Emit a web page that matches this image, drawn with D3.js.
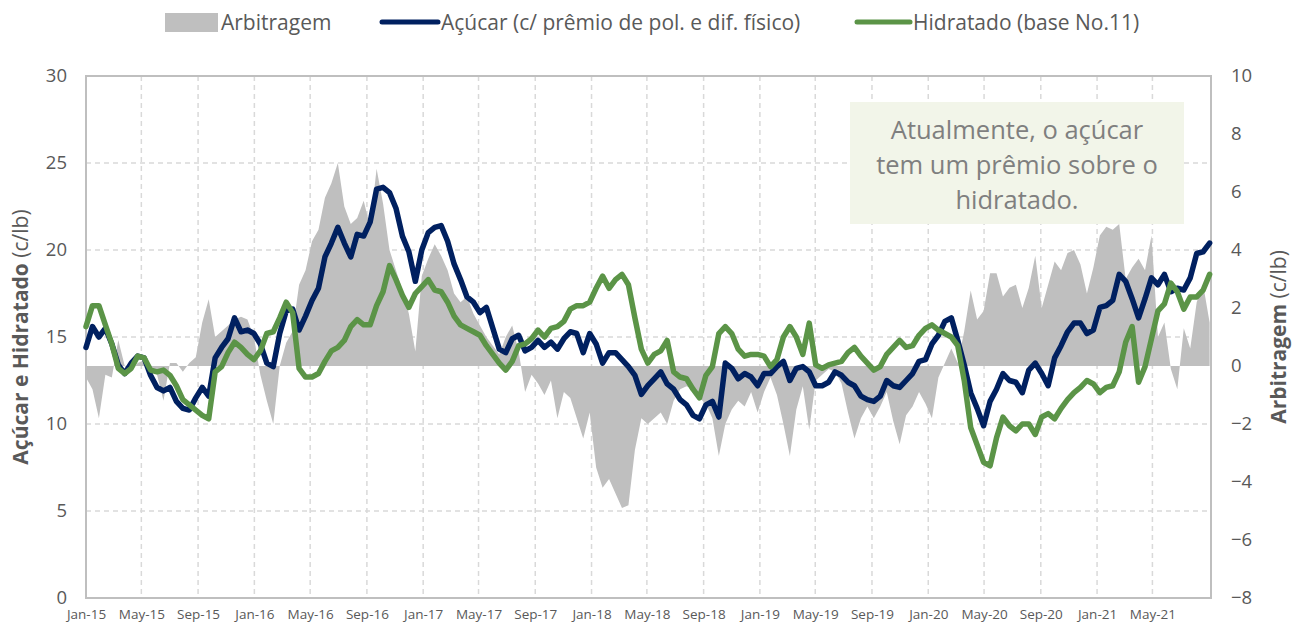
<!DOCTYPE html>
<html>
<head>
<meta charset="utf-8">
<script src="https://cdn.jsdelivr.net/npm/d3@7"></script>
<style>
  body { margin: 0; background: #fff; }
  text { font-family: "Open Sans", "Noto Sans", sans-serif; }
</style>
</head>
<body>
<script>
// serie quinzenal a partir de jan/2015 (c/lb)
var START_DATE = "2015-01-01";
var STEP_DAYS = 14;

var acucar = [
  14.4,15.6,15.0,15.5,14.6,13.4,12.9,13.5,13.9,13.8,
  12.8,12.1,11.9,12.1,11.3,10.9,10.8,11.5,12.1,11.6,
  13.8,14.4,14.9,16.1,15.3,15.4,15.2,14.6,13.5,13.3,
  15.2,16.5,16.6,15.4,16.2,17.1,17.8,19.6,20.4,21.3,
  20.4,19.6,20.9,20.8,21.6,23.5,23.6,23.3,22.4,20.8,
  19.9,18.2,20.0,21.0,21.3,21.4,20.5,19.2,18.3,17.3,
  17.0,16.4,16.7,15.5,14.3,14.1,14.9,15.1,14.2,14.4,
  14.8,14.4,14.7,14.3,14.9,15.3,15.2,14.1,15.2,14.6,
  13.5,14.1,14.1,13.7,13.3,12.8,11.7,12.2,12.6,13.0,
  12.3,12.0,11.4,11.1,10.5,10.3,11.1,11.3,10.4,13.5,
  13.2,12.6,12.9,12.7,12.2,12.9,12.9,13.3,13.6,12.5,
  13.2,13.3,13.0,12.2,12.2,12.4,13.0,12.8,12.4,12.2,
  11.6,11.4,11.3,11.6,12.5,12.2,12.1,12.5,12.9,13.6,
  13.7,14.6,15.1,15.9,16.1,14.8,13.4,11.8,10.9,9.9,
  11.3,12.0,12.9,12.5,12.4,11.8,13.1,13.5,12.9,12.2,
  13.8,14.5,15.3,15.8,15.8,15.2,15.4,16.7,16.8,17.1,
  18.6,18.2,17.2,16.1,17.2,18.4,18.0,18.6,17.6,17.8,
  17.7,18.4,19.8,19.9,20.4
];

var hidratado = [
  15.6,16.8,16.8,15.7,14.6,13.2,12.9,13.2,13.9,13.8,
  13.1,13.0,13.1,12.8,12.2,11.4,11.1,10.8,10.5,10.3,
  13.0,13.3,14.1,14.7,14.4,14.0,13.7,14.2,15.2,15.3,
  16.1,17.0,16.4,13.2,12.7,12.7,12.9,13.6,14.2,14.4,
  14.8,15.6,16.0,15.7,15.7,16.8,17.6,19.1,18.3,17.4,
  16.7,17.5,17.9,18.3,17.7,17.6,17.0,16.2,15.7,15.5,
  15.3,15.1,14.5,14.0,13.5,13.1,13.6,14.5,14.6,14.9,
  15.4,15.0,15.5,15.6,15.9,16.6,16.8,16.8,17.0,17.8,
  18.5,17.8,18.3,18.6,18.0,16.1,14.3,13.5,14.0,14.2,
  14.8,13.0,12.7,12.6,12.0,11.5,12.8,13.3,15.2,15.6,
  15.2,14.3,13.9,14.0,14.0,13.9,13.3,13.7,15.0,15.6,
  15.0,14.0,15.8,13.4,13.2,13.4,13.5,13.6,14.1,14.4,
  13.9,13.5,13.1,13.3,14.0,14.4,14.8,14.4,14.5,15.1,
  15.5,15.7,15.4,15.2,15.0,14.5,12.5,9.8,8.8,7.8,
  7.6,9.2,10.4,9.9,9.6,10.0,10.0,9.4,10.4,10.6,
  10.3,10.9,11.4,11.8,12.1,12.5,12.3,11.8,12.1,12.2,
  13.0,14.7,15.6,12.4,13.3,14.9,16.5,16.9,18.1,17.6,
  16.6,17.3,17.3,17.7,18.6
];

var arbitragem = [
  -0.4,-0.8,-1.8,-0.3,-0.4,0.9,0.0,-0.2,0.1,0.2,
  -0.1,-0.3,-1.2,0.1,0.1,-0.2,0.1,0.3,1.5,2.3,
  1.0,1.2,1.4,1.6,1.7,1.6,1.0,-0.3,-1.2,-2.0,
  0.0,0.8,1.2,2.8,3.3,4.3,4.7,5.8,6.3,7.0,
  5.5,4.9,5.1,5.7,4.8,6.8,5.6,4.0,3.3,2.6,
  1.8,0.5,3.1,3.7,4.2,3.8,3.3,2.5,2.2,2.4,
  1.8,1.4,1.0,0.7,0.4,1.0,1.4,0.5,-0.9,-0.3,
  -0.6,-1.0,-0.5,-1.8,-0.9,-1.1,-1.8,-2.5,-1.6,-3.5,
  -4.2,-3.9,-4.4,-4.9,-4.8,-2.9,-1.8,-2.0,-1.8,-1.6,
  -2.0,-1.2,-0.8,-0.7,-0.8,-1.1,-1.3,-1.8,-3.1,-2.0,
  -1.5,-1.2,-1.4,-0.9,-1.6,-0.9,-0.4,-1.0,-2.0,-3.1,
  -1.5,-0.7,-2.2,-0.5,-0.3,-0.1,-0.2,-0.6,-1.6,-2.5,
  -1.8,-1.4,-1.8,-1.4,-0.9,-1.9,-2.7,-1.7,-1.4,-0.9,
  -1.3,-1.8,-0.4,0.1,0.6,0.1,1.2,2.6,1.6,1.9,
  3.2,3.2,2.4,2.7,2.8,2.0,2.7,3.8,2.0,2.8,
  3.6,3.3,3.9,4.0,3.5,2.5,3.4,4.5,4.8,4.7,
  4.9,3.0,3.4,3.7,3.3,4.5,1.0,1.5,-0.1,-0.8,
  1.3,0.6,2.2,2.8,1.5
];

var leftTicks = [0, 5, 10, 15, 20, 25, 30];
var rightTicks = [-8, -6, -4, -2, 0, 2, 4, 6, 8, 10];
var xDomain = ["2015-01-01", "2021-09-05"];
var legendLabels = ["Arbitragem", "Açúcar (c/ prêmio de pol. e dif. físico)", "Hidratado (base No.11)"];
var noteLines = ["Atualmente, o açúcar", "tem um prêmio sobre o", "hidratado."];

var W = 1295, H = 627;
var m = { left: 86, right: 84, top: 76, bottom: 29 };
var GRAY_TXT = "#595959";
var COR_ACUCAR = "#002060", COR_HIDR = "#5B9447", COR_ARB = "#BFBFBF";

var parse = d3.timeParse("%Y-%m-%d");
var start = parse(START_DATE);
var rows = acucar.map(function (v, i) {
  return { date: d3.timeDay.offset(start, i * STEP_DAYS), acucar: v, hidratado: hidratado[i], arb: arbitragem[i] };
});

var svg = d3.select("body").append("svg").attr("width", W).attr("height", H);

var x = d3.scaleTime().domain(xDomain.map(parse)).range([m.left, W - m.right]);
var yL = d3.scaleLinear().domain([0, 30]).range([H - m.bottom, m.top]);
var yR = d3.scaleLinear().domain([-8, 10]).range([H - m.bottom, m.top]);

var xTicks = d3.timeMonth.range(parse("2015-01-01"), parse("2021-09-01"), 4);

// grade
var grid = svg.append("g").attr("stroke", "#D9D9D9").attr("stroke-width", 1.5).attr("stroke-dasharray", "5,4");
grid.selectAll("line.h").data(leftTicks.slice(1, -1)).enter().append("line")
  .attr("x1", m.left).attr("x2", W - m.right)
  .attr("y1", function (d) { return yL(d); }).attr("y2", function (d) { return yL(d); });
grid.selectAll("line.v").data(xTicks.slice(1)).enter().append("line")
  .attr("y1", m.top).attr("y2", H - m.bottom)
  .attr("x1", function (d) { return x(d); }).attr("x2", function (d) { return x(d); });

// arbitragem (eixo direito)
var area = d3.area()
  .x(function (d) { return x(d.date); })
  .y0(yR(0))
  .y1(function (d) { return yR(d.arb); });
svg.append("path").datum(rows).attr("d", area).attr("fill", COR_ARB);

// borda da area de plotagem
svg.append("rect").attr("x", m.left).attr("y", m.top)
  .attr("width", W - m.right - m.left).attr("height", H - m.bottom - m.top)
  .attr("fill", "none").attr("stroke", "#BFBFBF").attr("stroke-width", 2);

function linha(key) {
  return d3.line().x(function (d) { return x(d.date); }).y(function (d) { return yL(d[key]); });
}
svg.append("path").datum(rows).attr("d", linha("acucar"))
  .attr("fill", "none").attr("stroke", COR_ACUCAR).attr("stroke-width", 5.5).attr("stroke-linejoin", "round").attr("stroke-linecap", "round");
svg.append("path").datum(rows).attr("d", linha("hidratado"))
  .attr("fill", "none").attr("stroke", COR_HIDR).attr("stroke-width", 5.5).attr("stroke-linejoin", "round").attr("stroke-linecap", "round");

// eixos
var axL = svg.append("g").attr("transform", "translate(" + m.left + ",0)")
  .call(d3.axisLeft(yL).tickValues(leftTicks).tickSize(0).tickPadding(19));
var axR = svg.append("g").attr("transform", "translate(" + (W - m.right) + ",0)")
  .call(d3.axisRight(yR).tickValues(rightTicks).tickSize(0).tickPadding(20));
var axB = svg.append("g").attr("transform", "translate(0," + (H - m.bottom) + ")")
  .call(d3.axisBottom(x).tickValues(xTicks).tickFormat(d3.timeFormat("%b-%y")).tickSize(0).tickPadding(11));
[axL, axR, axB].forEach(function (a) {
  a.select(".domain").remove();
  a.selectAll("text").attr("fill", GRAY_TXT).style("font-family", "'Open Sans', sans-serif");
});
axL.selectAll("text").style("font-size", "18.5px");
axR.selectAll("text").style("font-size", "18.5px");
axB.selectAll("text").style("font-size", "13.5px");

// titulos dos eixos
var tl = svg.append("text").attr("transform", "translate(28," + (m.top + (H - m.bottom - m.top) / 2) + ") rotate(-90)")
  .attr("text-anchor", "middle").attr("fill", GRAY_TXT).style("font-size", "21px");
tl.append("tspan").attr("font-weight", "bold").text("Açúcar e Hidratado ");
tl.append("tspan").text("(c/lb)");
var tr = svg.append("text").attr("transform", "translate(1286," + (m.top + (H - m.bottom - m.top) / 2) + ") rotate(-90)")
  .attr("text-anchor", "middle").attr("fill", GRAY_TXT).style("font-size", "21px");
tr.append("tspan").attr("font-weight", "bold").text("Arbitragem ");
tr.append("tspan").text("(c/lb)");

// legenda
var leg = svg.append("g");
leg.append("rect").attr("x", 165).attr("y", 13).attr("width", 53).attr("height", 19).attr("fill", COR_ARB);
leg.append("line").attr("x1", 382).attr("x2", 438).attr("y1", 22).attr("y2", 22)
  .attr("stroke", COR_ACUCAR).attr("stroke-width", 5).attr("stroke-linecap", "round");
leg.append("line").attr("x1", 857).attr("x2", 910).attr("y1", 22).attr("y2", 22)
  .attr("stroke", COR_HIDR).attr("stroke-width", 5).attr("stroke-linecap", "round");
leg.selectAll("text").data(legendLabels).enter().append("text")
  .attr("x", function (d, i) { return [221, 441, 913][i]; })
  .attr("y", 30).attr("fill", GRAY_TXT).style("font-size", "21px")
  .text(function (d) { return d; });

// nota
svg.append("rect").attr("x", 850).attr("y", 102).attr("width", 334).attr("height", 122).attr("fill", "#F2F5E9");
svg.selectAll("text.note").data(noteLines).enter().append("text").attr("class", "note")
  .attr("x", 1017).attr("y", function (d, i) { return 139 + i * 35; })
  .attr("text-anchor", "middle").attr("fill", "#7F7F7F").style("font-size", "25.5px")
  .text(function (d) { return d; });
</script>
</body>
</html>
